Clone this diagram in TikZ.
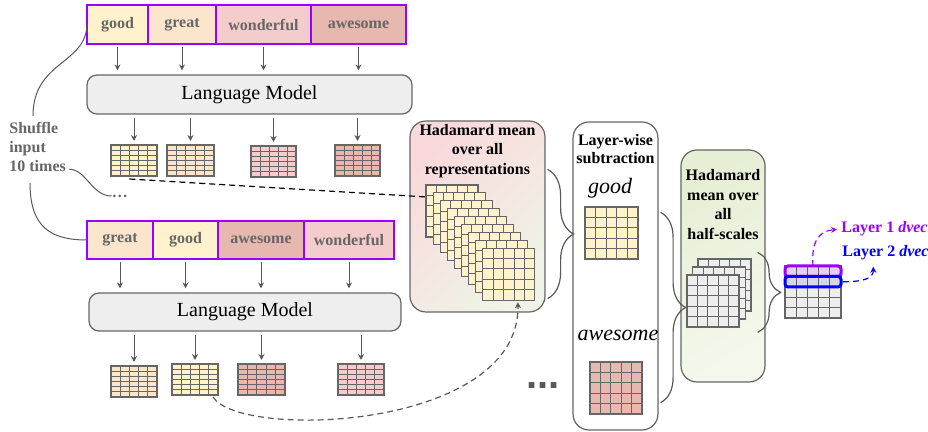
\documentclass[tikz,border=0pt]{standalone}
\usepackage{fontspec}
\setmainfont{Liberation Serif}
\setsansfont{Liberation Sans}
\usepackage{tikz}
\usetikzlibrary{arrows.meta, positioning, calc, decorations.pathreplacing}
\definecolor{goodc}{HTML}{FFF2CC}
\definecolor{greatc}{HTML}{FCE5CD}
\definecolor{wonderc}{HTML}{F4CCCC}
\definecolor{awesomec}{HTML}{E6B8AF}
\definecolor{lmgray}{HTML}{EEEEEE}
\definecolor{edgegray}{HTML}{666666}
\definecolor{txtgray}{HTML}{666666}
\definecolor{arrgray}{HTML}{595959}
\definecolor{vio}{HTML}{9900FF}
\definecolor{dvblue}{HTML}{0000FF}
\definecolor{hadpink}{HTML}{F9D9DC}
\definecolor{hadcream}{HTML}{EFF4E6}
\definecolor{halfgreen}{HTML}{E6EED4}
\definecolor{halflight}{HTML}{F4F8EC}
\tikzset{
    wordbox/.style={rectangle, draw=vio, line width=0.6pt, minimum height=19.5pt, inner sep=0pt,
        outer sep=0pt, font=\fontsize{8}{9}\selectfont\bfseries, text=txtgray},
    lmbox/.style={rectangle, rounded corners=5pt, draw=edgegray, fill=lmgray, line width=0.6pt,
        font=\fontsize{10}{12}\selectfont},
    flowarrow/.style={-{Stealth[length=3pt, width=3pt]}, draw=arrgray, line width=0.5pt,
        shorten <=1.5pt, shorten >=2pt},
    matcell/.style={rectangle, draw=edgegray, line width=0.6pt, inner sep=0pt, outer sep=0pt},
    matline/.style={draw=edgegray, line width=0.5pt},
    stagebox/.style={rectangle, rounded corners=8pt, draw=edgegray, line width=0.6pt, inner sep=0pt},
    stagetitle/.style={align=center, font=\fontsize{8}{9.75}\selectfont\bfseries, inner sep=0pt},
    wordlabel/.style={font=\fontsize{11}{13}\selectfont\itshape, inner sep=0pt},
    bracearm/.style={decorate, decoration={brace, amplitude=12pt}, draw=arrgray, line width=0.6pt},
    linkcurve/.style={draw=arrgray, line width=0.5pt},
    dashlink/.style={dashed, dash pattern=on 3pt off 2pt, line width=0.6pt},
    rowmark/.style={rectangle, rounded corners=1.5pt, line width=1.5pt, minimum width=28pt,
        minimum height=5.25pt, inner sep=0pt, outer sep=0pt, anchor=north west},
    dveclabel/.style={font=\fontsize{8}{9}\selectfont\bfseries, inner sep=0pt, anchor=west},
}
% name, x, y, width, height, inner row lines, fill
\newcommand{\matgrid}[7]{%
    \node[matcell, fill=#7, minimum width=#4*0.5pt, minimum height=#5*0.5pt, anchor=north west] (#1) at (#2,#3) {};
    \foreach \k in {1,...,4}
        \draw[matline] ($(#1.north west)!\k/5!(#1.north east)$) -- ($(#1.south west)!\k/5!(#1.south east)$);
    \foreach \k in {1,...,#6}
        \draw[matline] ($(#1.north west)!{\k/(#6+1)}!(#1.south west)$) -- ($(#1.north east)!{\k/(#6+1)}!(#1.south east)$);
}

\begin{document}
\begin{tikzpicture}[x=0.5pt, y=-0.5pt]
    \useasboundingbox (0,0) rectangle (928,432);

    % First shuffled input
    \node[wordbox, fill=goodc, minimum width=30.5pt, anchor=north west] (ta) at (87,5) {good};
    \node[wordbox, fill=greatc, minimum width=34pt, right=0pt of ta] (tb) {great};
    \node[wordbox, fill=wonderc, minimum width=47.5pt, right=0pt of tb] (tc) {wonderful};
    \node[wordbox, fill=awesomec, minimum width=47.5pt, right=0pt of tc] (td) {awesome};
    \node[lmbox, minimum width=162.5pt, minimum height=19.5pt] (lmtop) at (249.5,94.5) {Language Model};
    \matgrid{tga}{111}{145}{46}{31}{5}{goodc}
    \matgrid{tgb}{167}{145}{47}{31}{5}{greatc}
    \matgrid{tgc}{251}{146}{45}{31}{5}{wonderc}
    \matgrid{tgd}{335}{145}{45}{31}{5}{awesomec}
    \foreach \w/\g in {ta/tga, tb/tgb, tc/tgc, td/tgd} {
        \draw[flowarrow] (\w.south) -- (\w.south |- lmtop.north);
        \draw[flowarrow] (\g.north |- lmtop.south) -- (\g.north);
    }

    % Second shuffled input
    \node[wordbox, fill=greatc, minimum width=33pt, minimum height=19pt, anchor=north west] (ba) at (87,221) {great};
    \node[wordbox, fill=goodc, minimum width=32.5pt, minimum height=19pt, right=0pt of ba] (bb) {good};
    \node[wordbox, fill=awesomec, minimum width=43pt, minimum height=19pt, right=0pt of bb] (bc) {awesome};
    \node[wordbox, fill=wonderc, minimum width=45pt, minimum height=19pt, right=0pt of bc] (bd) {wonderful};
    \node[lmbox, minimum width=156pt, minimum height=19pt] (lmbot) at (245,312) {Language Model};
    \matgrid{bga}{111}{366}{46}{31}{5}{greatc}
    \matgrid{bgb}{172}{364}{46}{31}{5}{goodc}
    \matgrid{bgc}{238}{364}{47}{31}{5}{awesomec}
    \matgrid{bgd}{338}{364}{46}{31}{5}{wonderc}
    \foreach \w/\g in {ba/bga, bb/bgb, bc/bgc, bd/bgd} {
        \draw[flowarrow] (\w.south) -- (\w.south |- lmbot.north);
        \draw[flowarrow] (\g.north |- lmbot.south) -- (\g.north);
    }

    % Shuffle note with its brace-like curves
    \node[align=left, inner sep=0pt, anchor=north west, text=txtgray,
          font=\fontsize{8}{9.5}\selectfont\bfseries] (shuffle) at (9,122) {Shuffle\\input\\10 times};
    \node[inner sep=0pt, text=txtgray, font=\fontsize{8}{9}\selectfont\bfseries] (dotsa) at (120,196) {\dots};
    \draw[linkcurve] (ta.west) .. controls +(-1,40) and +(0,-55) .. ($(shuffle.north west)+(24,-6)$);
    \draw[linkcurve] ($(shuffle.south east)+(3,-3)$) .. controls +(17,0) and +(-20,0) .. (dotsa.west);
    \draw[linkcurve] ($(shuffle.south west)+(21,11)$) .. controls +(0,45) and +(-35,0) .. (ba.west);

    % Hadamard mean over all representations
    \node[stagebox, top color=hadpink, bottom color=hadcream, shading angle=45,
          minimum width=67.5pt, minimum height=95.5pt] (hadone) at (477.5,216.5) {};
    \node[stagetitle, below=1.75pt of hadone.north] (hadonetxt) {Hadamard mean\\over all\\representations};
    \foreach \s in {0,...,8} {
        \matgrid{hs\s}{426+\s*7.1}{185+\s*7.9}{52}{52}{4}{goodc}
    }

    % Layer-wise subtraction
    \node[stagebox, fill=white, minimum width=42.5pt, minimum height=154pt] (layerbox) at (615.5,276) {};
    \node[stagetitle, font=\fontsize{8}{9}\selectfont\bfseries, below=6.25pt of layerbox.north] (layertxt) {Layer-wise\\subtraction};
    \node[wordlabel] (lgood) at (610,188) {good};
    \matgrid{lga}{585}{207}{53}{52}{4}{goodc}
    \node[wordlabel] (lawe) at (618,335) {awesome};
    \matgrid{lgb}{590}{362}{52}{52}{4}{awesomec}
    \node[inner sep=0pt, anchor=base, text=arrgray, font=\fontsize{20}{20}\sffamily\bfseries] (bigdots) at (543,389) {...};

    % Hadamard mean over all half-scales
    \node[stagebox, top color=halfgreen, bottom color=halflight, shading angle=30,
          minimum width=42pt, minimum height=116pt] (hadtwo) at (723,266) {};
    \node[stagetitle, below=10pt of hadtwo.north] (hadtwotxt) {Hadamard\\mean over\\all\\half-scales};
    \matgrid{hta}{698}{259}{53}{52}{4}{lmgray}
    \matgrid{htb}{692.5}{267}{53}{52}{4}{lmgray}
    \matgrid{htc}{687}{275}{52}{52}{4}{lmgray}

    % Output matrix and dvec rows
    \matgrid{outm}{785}{266}{56}{52}{4}{lmgray}
    \node[rowmark, draw=vio, fill=vio, fill opacity=0.13] (rowone) at (785,266) {};
    \node[rowmark, draw=dvblue, fill=dvblue, fill opacity=0.1] (rowtwo) at (785,276.5) {};
    \node[dveclabel, text=vio] (layone) at (841,229) {Layer 1 \textit{dvec}};
    \node[dveclabel, text=dvblue] (laytwo) at (842,253) {Layer 2 \textit{dvec}};

    % Braces between stages
    \draw[bracearm, decoration={amplitude=13pt}] ($(hadone.north east)+(2,49)$) -- ($(hadone.south east)+(2,-14)$);
    \draw[bracearm, decoration={amplitude=12.5pt}] ($(layerbox.north east)+(2,91)$) -- ($(layerbox.south east)+(2,-28)$);
    \draw[bracearm, decoration={amplitude=11.5pt}] ($(hadtwo.north east)+(-8,103)$) -- ($(hadtwo.north east)+(-8,183)$);

    % Dashed links
    \draw[dashlink] ($(tga.south west)!0.4!(tga.south east)+(0,3)$) -- ($(hs0.north west)!0.23!(hs0.south west)$);
    \draw[dashlink, draw=arrgray, -{Stealth[length=3pt, width=3pt]}]
        ($(bgb.south east)+(-5,2)$) .. controls +(27,43) and +(2,128) .. ($(hs8.south)!0.35!(hs8.south east)+(0,2)$);
    \draw[dashlink, draw=vio, -{Stealth[length=3pt, width=3pt]}, shorten >=2pt]
        (rowone.north) .. controls +(-2,-26) and +(-21,2) .. (layone.west);
    \draw[dashlink, draw=dvblue, -{Stealth[length=3pt, width=3pt]}, shorten <=1pt]
        (rowtwo.east) .. controls +(22,0) and +(0,12) .. ($(laytwo.south west)!0.36!(laytwo.south east)+(0,6)$);
\end{tikzpicture}
\end{document}
